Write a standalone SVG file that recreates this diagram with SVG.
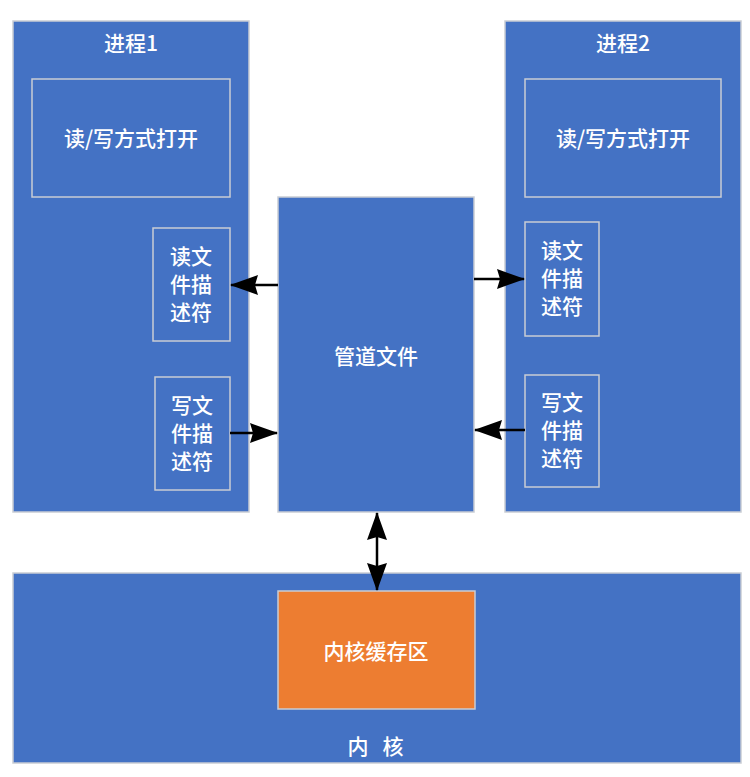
<svg xmlns="http://www.w3.org/2000/svg" width="750" height="777" viewBox="0 0 750 777">
<style>
.blue{fill:#4472C4;stroke:#C9CDD4;stroke-width:1.5}
.orange{fill:#ED7D31;stroke:#C9CDD4;stroke-width:1.5}
.t{font-family:"Noto Sans CJK SC","Liberation Sans",sans-serif;font-size:21px;font-weight:500;fill:#FFFFFF;text-anchor:middle;dominant-baseline:central}
.c{stroke:#000;stroke-width:2.5;fill:none}
</style>
<defs>
<marker id="ah" markerWidth="28" markerHeight="20" refX="27" refY="10" orient="auto-start-reverse" markerUnits="userSpaceOnUse">
<path d="M0,0 L28,10 L0,20 L3,10 Z" fill="#000"/>
</marker>
</defs>
<rect x="0" y="0" width="750" height="777" fill="#FFFFFF"/>
<g id="process1">
<rect class="blue" x="13" y="21" width="236" height="491"/>
<text class="t" x="131" y="42">进程1</text>
</g>
<g id="open1">
<rect class="blue" x="32" y="79" width="198" height="118"/>
<text class="t" x="131" y="137">读/写方式打开</text>
</g>
<g id="read1">
<rect class="blue" x="153" y="228" width="77" height="113"/>
<text class="t" x="191" y="255">读文</text>
<text class="t" x="191" y="283">件描</text>
<text class="t" x="191" y="311">述符</text>
</g>
<g id="write1">
<rect class="blue" x="155" y="377" width="75" height="113"/>
<text class="t" x="192" y="404">写文</text>
<text class="t" x="192" y="432">件描</text>
<text class="t" x="192" y="460">述符</text>
</g>
<g id="process2">
<rect class="blue" x="505" y="21" width="236" height="491"/>
<text class="t" x="623" y="42">进程2</text>
</g>
<g id="open2">
<rect class="blue" x="525" y="79" width="196" height="118"/>
<text class="t" x="623" y="137">读/写方式打开</text>
</g>
<g id="read2">
<rect class="blue" x="525" y="222" width="74" height="114"/>
<text class="t" x="562" y="249">读文</text>
<text class="t" x="562" y="277">件描</text>
<text class="t" x="562" y="305">述符</text>
</g>
<g id="write2">
<rect class="blue" x="525" y="375" width="74" height="112"/>
<text class="t" x="562" y="401">写文</text>
<text class="t" x="562" y="429">件描</text>
<text class="t" x="562" y="457">述符</text>
</g>
<g id="pipe">
<rect class="blue" x="278" y="197" width="196" height="315"/>
<text class="t" x="376" y="355">管道文件</text>
</g>
<g id="kernel">
<rect class="blue" x="13" y="573" width="728" height="190"/>
<text class="t" x="358" y="745">内</text>
<text class="t" x="393" y="745">核</text>
</g>
<g id="buffer">
<rect class="orange" x="278" y="591" width="197" height="118"/>
<text class="t" x="376" y="650">内核缓存区</text>
</g>
<g id="connectors">
<line class="c" x1="278" y1="285" x2="231" y2="285" marker-end="url(#ah)"/>
<line class="c" x1="230" y1="433" x2="277" y2="433" marker-end="url(#ah)"/>
<line class="c" x1="474" y1="279" x2="524" y2="279" marker-end="url(#ah)"/>
<line class="c" x1="525" y1="430" x2="475" y2="430" marker-end="url(#ah)"/>
<line class="c" x1="377" y1="513" x2="377" y2="590" marker-start="url(#ah)" marker-end="url(#ah)"/>
</g>
</svg>
